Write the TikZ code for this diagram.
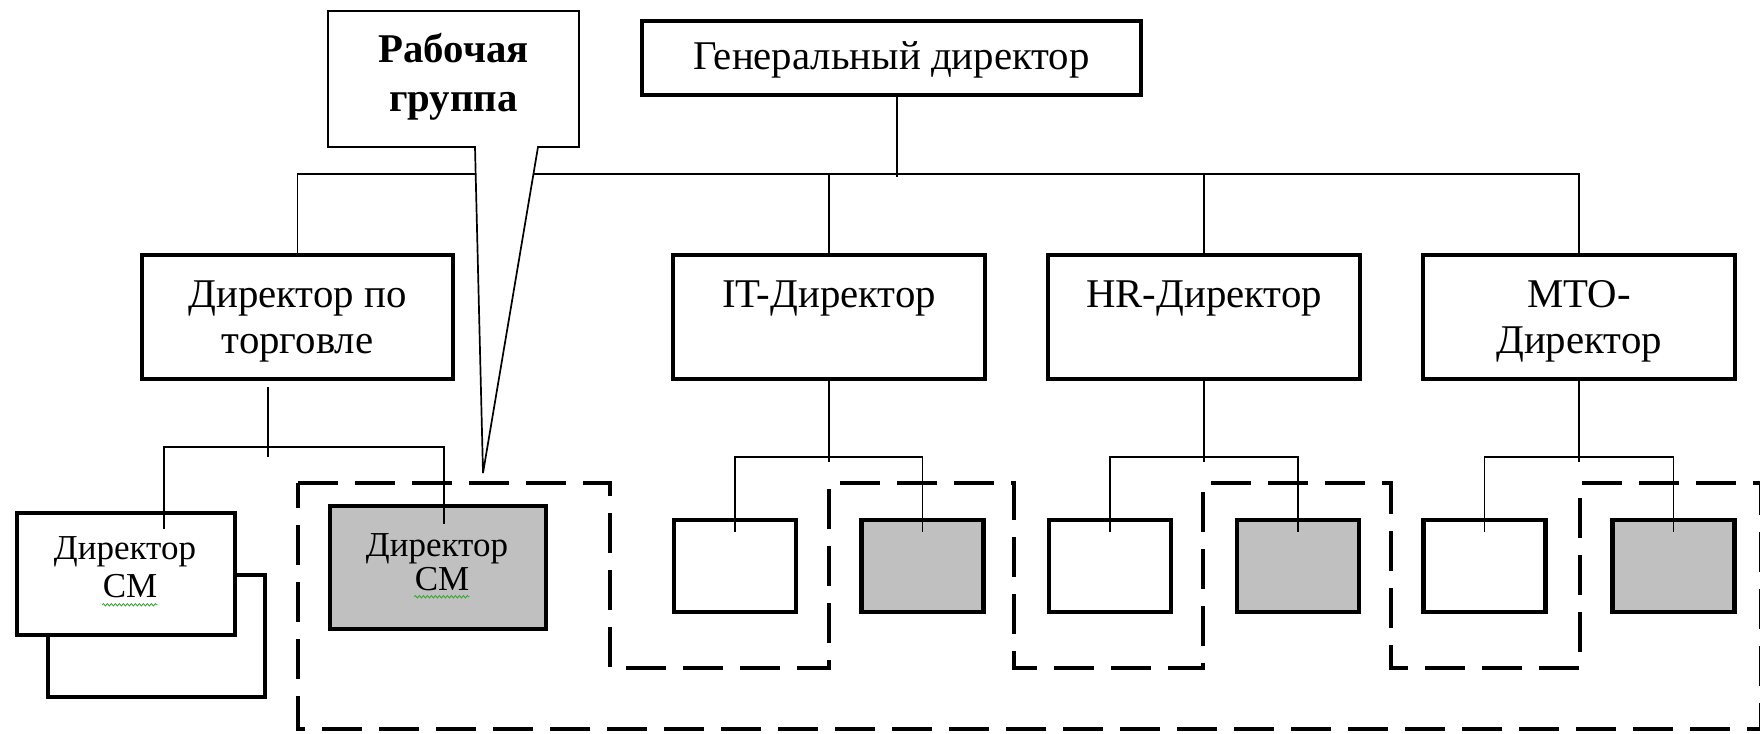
\documentclass[tikz,border=0pt]{standalone}
\usepackage{fontspec}
\setmainfont{Liberation Serif}
\usetikzlibrary{decorations.pathmorphing}
\definecolor{boxgray}{RGB}{192,192,192}
\definecolor{spellgreen}{RGB}{70,160,70}
\begin{document}
\begin{tikzpicture}[x=0.5pt,y=-0.5pt,
  box/.style={draw=black, line width=2.1pt, fill=white, inner sep=0pt},
  graybox/.style={box, fill=boxgray},
  conn/.style={draw=black, line width=0.8pt},
  grp/.style={draw=black, line width=2pt, dash pattern=on 20pt off 8.5pt},
  bigtxt/.style={inner sep=0pt, anchor=base, font=\fontsize{20.4pt}{23pt}\selectfont},
  smalltxt/.style={inner sep=0pt, anchor=base, font=\fontsize{17.5pt}{19pt}\selectfont},
  spell/.style={draw=spellgreen, line width=0.45pt, decorate,
    decoration={zigzag, segment length=2pt, amplitude=0.6pt}}
]
\useasboundingbox (0,0) rectangle (1760,733);

% working-group outline (dashed, stepped around the subordinate boxes)
\draw[grp] (298,483) -- (610,483) -- (610,668) -- (829,668) -- (829,483)
  -- (1014,483) -- (1014,668) -- (1203,668) -- (1203,483)
  -- (1391,483) -- (1391,668) -- (1580,668) -- (1580,483)
  -- (1761,483) -- (1761,729) -- (298,729) -- cycle;

% top level
\node[box, minimum width=249.5pt, minimum height=37pt] (gd) at (891.5,58) {};
\node[bigtxt] (gdtxt) at (891.5,70) {Генеральный директор};

% directors
\node[box, minimum width=155.5pt, minimum height=62pt] (trade) at (297.5,317) {};
\node[box, minimum width=156pt, minimum height=62pt] (it) at (829,317) {};
\node[box, minimum width=156pt, minimum height=62pt] (hr) at (1204,317) {};
\node[box, minimum width=156pt, minimum height=62pt] (mto) at (1579,317) {};
\node[bigtxt] (tradetxtA) at (297.5,307) {Директор по};
\node[bigtxt] (tradetxtB) at (297.5,353) {торговле};
\node[bigtxt] (ittxt) at (829,307) {IT-Директор};
\node[bigtxt] (hrtxt) at (1204,307) {HR-Директор};
\node[bigtxt] (mtotxtA) at (1579,307) {MTO-};
\node[bigtxt] (mtotxtB) at (1579,353) {Директор};

% store managers
\node[box, minimum width=108.5pt, minimum height=61pt] (smLback) at (156.5,636) {};
\node[box, minimum width=109pt, minimum height=61pt] (smL) at (126,574) {};
\node[graybox, minimum width=108pt, minimum height=61.5pt] (smG) at (438,567.5) {};
\node[smalltxt] (smLtxtA) at (125,559) {Директор};
\node[smalltxt] (smLtxtB) at (130,597) {СМ};
\node[smalltxt] (smGtxtA) at (437,556) {Директор};
\node[smalltxt] (smGtxtB) at (442,590) {СМ};
\draw[spell] ([yshift=-3.5pt]smLtxtB.south west) -- ([yshift=-3.5pt]smLtxtB.south east);
\draw[spell] ([yshift=-3pt]smGtxtB.south west) -- ([yshift=-3pt]smGtxtB.south east);

% subordinate boxes of IT, HR and MTO
\node[box, minimum width=61pt, minimum height=46pt] (itw) at (735,566) {};
\node[graybox, minimum width=61pt, minimum height=46pt] (itg) at (922.5,566) {};
\node[box, minimum width=61pt, minimum height=46pt] (hrw) at (1110,566) {};
\node[graybox, minimum width=61pt, minimum height=46pt] (hrg) at (1298,566) {};
\node[box, minimum width=61pt, minimum height=46pt] (mtow) at (1484.5,566) {};
\node[graybox, minimum width=61pt, minimum height=46pt] (mtog) at (1673.5,566) {};

% main bus
\coordinate (busy) at (0,174);
\coordinate (gdstem) at (897,177);
\draw[conn] (gd.south -| gdstem) -- (gdstem);
\draw[conn] (trade.north) |- (busy -| mto.north) -- (mto.north);
\draw[conn] (it.north) -- (it.north |- busy);
\draw[conn] (hr.north) -- (hr.north |- busy);

% trade director to store managers
\coordinate (tradestem) at (268,457);
\coordinate (tradebus) at (0,447);
\coordinate (smLtap) at (164,529);
\coordinate (smGtap) at (444,524);
\draw[conn] ([yshift=-3pt]trade.south -| tradestem) -- (tradestem);
\draw[conn] (smLtap) |- (tradebus -| smGtap) -- (smGtap);

% IT, HR, MTO to their subordinates
\coordinate (subbus) at (0,457);
\coordinate (substem) at (0,462);
\foreach \d in {it,hr,mto}{
  \draw[conn] (\d.south) -- (\d.south |- substem);
  \draw[conn] ([yshift=-7pt]\d w.north) |- (subbus -| \d g.north) -- ([yshift=-7pt]\d g.north);
}

% callout of the working group
\coordinate (wgtip) at (483,473);
\draw[line width=0.85pt, fill=white] (328,11) -- (579,11) -- (579,147) -- (538,147)
  -- (wgtip) -- (475,147) -- (328,147) -- cycle;
\node[bigtxt, font=\fontsize{20.4pt}{23pt}\selectfont\bfseries] (wgA) at (453.5,63) {Рабочая};
\node[bigtxt, font=\fontsize{20.4pt}{23pt}\selectfont\bfseries] (wgB) at (453.5,112) {группа};
\end{tikzpicture}
\end{document}
